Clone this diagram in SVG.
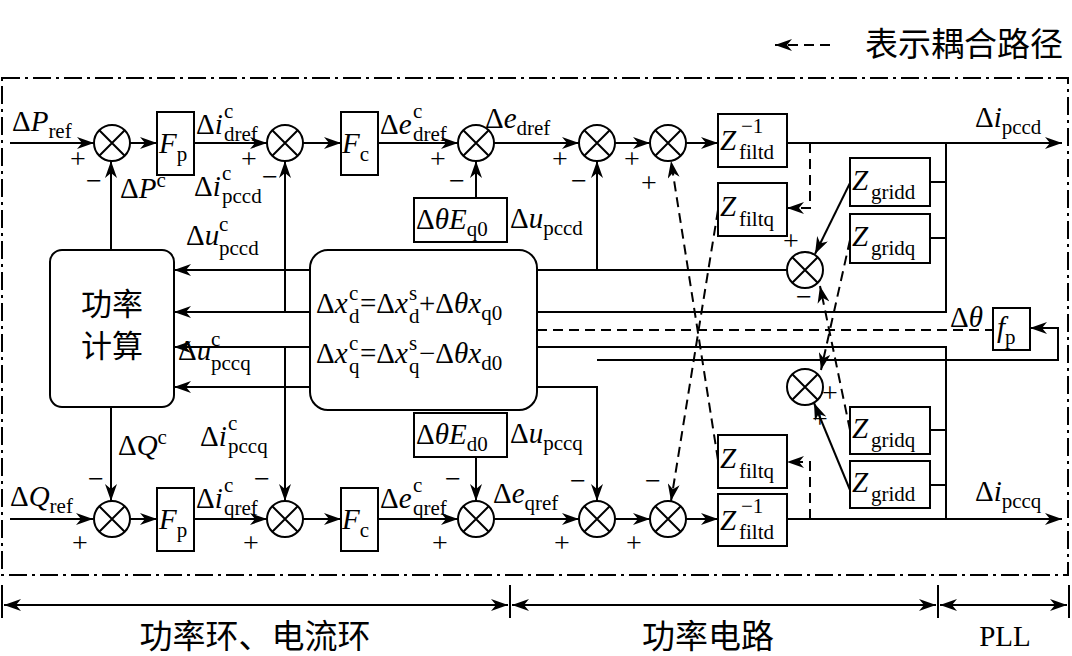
<svg xmlns="http://www.w3.org/2000/svg" width="1072" height="656" viewBox="0 0 1072 656">
<style>
.t{font-family:"Liberation Serif","Noto Sans CJK SC",serif;font-size:29px;fill:#000}
.i{font-style:italic}
.s{font-size:21px}
.pm{font-size:28px}
.cn{font-family:"Noto Sans CJK SC","Liberation Serif",serif;font-size:31px;fill:#000}
.cb{font-size:33px}
.l{stroke:#000;stroke-width:2;fill:none}
.d{stroke:#000;stroke-width:2;fill:none;stroke-dasharray:10,6}
.b{stroke:#000;stroke-width:2;fill:#fff}
</style>
<defs>
<marker id="a" markerUnits="userSpaceOnUse" markerWidth="18" markerHeight="12" refX="17" refY="6" orient="auto"><path d="M0,0 L17,6 L0,12 L5,6 Z" fill="#000"/></marker>
<g id="sum"><circle r="18" class="b"/><path d="M-12.7,-12.7 L12.7,12.7 M-12.7,12.7 L12.7,-12.7" class="l"/></g>
</defs>
<rect x="2" y="78" width="1066" height="497" fill="none" stroke="#000" stroke-width="2" stroke-dasharray="18,5,3,5"/>
<g id="connectors">
<path class="l" marker-end="url(#a)" d="M10,143H94"/>
<path class="l" marker-end="url(#a)" d="M130,143H157"/>
<path class="l" marker-end="url(#a)" d="M194,143H267"/>
<path class="l" marker-end="url(#a)" d="M303,143H341"/>
<path class="l" marker-end="url(#a)" d="M378,143H458"/>
<path class="l" marker-end="url(#a)" d="M494,143H579"/>
<path class="l" marker-end="url(#a)" d="M615,143H650"/>
<path class="l" marker-end="url(#a)" d="M686,143H718"/>
<path class="l" marker-end="url(#a)" d="M787,143H1062"/>
<path class="l" d="M946,143V312H537"/>
<path class="l" d="M930,182H946M930,238H946"/>
<path class="l" marker-end="url(#a)" d="M111,250V161"/>
<path class="l" marker-end="url(#a)" d="M285,312V161"/>
<path class="l" marker-end="url(#a)" d="M476,198V161"/>
<path class="l" d="M537,270H787"/>
<path class="l" marker-end="url(#a)" d="M597,270V161"/>
<path class="l" marker-end="url(#a)" d="M310,270H174"/>
<path class="l" marker-end="url(#a)" d="M310,312H174"/>
<path class="l" marker-end="url(#a)" d="M310,347H174"/>
<path class="l" marker-end="url(#a)" d="M310,387H174"/>
<path class="l" marker-end="url(#a)" d="M850,183L815,254"/>
<path class="l" marker-end="url(#a)" d="M850,490L814,403"/>
<path class="l" marker-end="url(#a)" d="M10,519H93"/>
<path class="l" marker-end="url(#a)" d="M130,519H157"/>
<path class="l" marker-end="url(#a)" d="M194,519H267"/>
<path class="l" marker-end="url(#a)" d="M303,519H341"/>
<path class="l" marker-end="url(#a)" d="M378,519H458"/>
<path class="l" marker-end="url(#a)" d="M494,519H579"/>
<path class="l" marker-end="url(#a)" d="M615,519H650"/>
<path class="l" marker-end="url(#a)" d="M686,519H718"/>
<path class="l" marker-end="url(#a)" d="M787,519H1062"/>
<path class="l" d="M537,347H946V519"/>
<path class="l" d="M930,430H946M930,485H946"/>
<path class="l" marker-end="url(#a)" d="M111,407V501"/>
<path class="l" marker-end="url(#a)" d="M285,347V501"/>
<path class="l" marker-end="url(#a)" d="M476,456V501"/>
<path class="l" marker-end="url(#a)" d="M537,387H597V501"/>
<path class="l" marker-end="url(#a)" d="M597,360H1058V328H1030"/>
<path class="d" d="M537,330H993"/>
<path class="d" marker-end="url(#a)" d="M810,143V208H787"/>
<path class="d" marker-end="url(#a)" d="M810,519V462H787"/>
<path class="d" marker-end="url(#a)" d="M718,210L671,501"/>
<path class="d" marker-end="url(#a)" d="M718,460L671,161"/>
<path class="d" marker-end="url(#a)" d="M850,240L821,370"/>
<path class="d" marker-end="url(#a)" d="M850,430L820,286"/>
</g>
<g id="sums">
<use href="#sum" x="112" y="143"/><use href="#sum" x="285" y="143"/><use href="#sum" x="476" y="143"/><use href="#sum" x="597" y="143"/><use href="#sum" x="668" y="143"/>
<use href="#sum" x="112" y="519"/><use href="#sum" x="285" y="519"/><use href="#sum" x="476" y="519"/><use href="#sum" x="597" y="519"/><use href="#sum" x="668" y="519"/>
<use href="#sum" x="805" y="270"/><use href="#sum" x="805" y="387"/>
</g>
<g id="Fp1"><rect class="b" x="157" y="112" width="37" height="63"/><text class="t" x="159" y="153"><tspan class="i">F</tspan><tspan class="s" dy="8">p</tspan></text></g>
<g id="Fc1"><rect class="b" x="341" y="112" width="37" height="63"/><text class="t" x="342" y="153"><tspan class="i">F</tspan><tspan class="s" dy="8">c</tspan></text></g>
<g id="Fp2"><rect class="b" x="157" y="488" width="37" height="63"/><text class="t" x="159" y="529"><tspan class="i">F</tspan><tspan class="s" dy="8">p</tspan></text></g>
<g id="Fc2"><rect class="b" x="341" y="488" width="37" height="63"/><text class="t" x="342" y="529"><tspan class="i">F</tspan><tspan class="s" dy="8">c</tspan></text></g>
<g id="Eq0"><rect class="b" x="414" y="198" width="93" height="44"/><text class="t" x="416" y="229">Δ<tspan class="i">θE</tspan><tspan class="s" dy="7">q0</tspan></text></g>
<g id="Ed0"><rect class="b" x="414" y="413" width="93" height="44"/><text class="t" x="416" y="444">Δ<tspan class="i">θE</tspan><tspan class="s" dy="7">d0</tspan></text></g>
<g id="Zfiltd1"><rect class="b" x="718" y="114" width="69" height="53"/><text class="t i" x="720" y="150">Z</text><text class="t s" x="741" y="133">−1</text><text class="t s" x="739" y="159">filtd</text></g>
<g id="Zfiltq1"><rect class="b" x="718" y="183" width="69" height="53"/><text class="t i" x="720" y="216">Z</text><text class="t s" x="739" y="226">filtq</text></g>
<g id="Zfiltq2"><rect class="b" x="718" y="435" width="69" height="53"/><text class="t i" x="720" y="468">Z</text><text class="t s" x="739" y="478">filtq</text></g>
<g id="Zfiltd2"><rect class="b" x="718" y="494" width="69" height="52"/><text class="t i" x="720" y="530">Z</text><text class="t s" x="741" y="513">−1</text><text class="t s" x="739" y="539">filtd</text></g>
<g id="Zgridd1"><rect class="b" x="850" y="158" width="80" height="48"/><text class="t i" x="852" y="190">Z</text><text class="t s" x="871" y="199">gridd</text></g>
<g id="Zgridq1"><rect class="b" x="850" y="214" width="80" height="49"/><text class="t i" x="852" y="246">Z</text><text class="t s" x="871" y="255">gridq</text></g>
<g id="Zgridq2"><rect class="b" x="850" y="407" width="80" height="47"/><text class="t i" x="852" y="438">Z</text><text class="t s" x="871" y="447">gridq</text></g>
<g id="Zgridd2"><rect class="b" x="850" y="461" width="80" height="47"/><text class="t i" x="852" y="492">Z</text><text class="t s" x="871" y="501">gridd</text></g>
<g id="fp"><rect class="b" x="993" y="308" width="37" height="42"/><text class="t" x="997" y="337"><tspan class="i">f</tspan><tspan class="s" dy="7">p</tspan></text></g>
<g id="power"><rect class="b" x="50" y="250" width="124" height="157" rx="12"/><text class="cn" x="112" y="315" text-anchor="middle">功率</text><text class="cn" x="112" y="357" text-anchor="middle">计算</text></g>
<g id="xform"><rect class="b" x="310" y="250" width="227" height="160" rx="18"/>
<text class="t" x="316" y="313">Δ<tspan class="i">x</tspan></text><text class="t s" x="349" y="300">c</text><text class="t s" x="349" y="323">d</text><text class="t" x="360" y="313">=Δ<tspan class="i">x</tspan></text><text class="t s" x="409" y="300">s</text><text class="t s" x="409" y="323">d</text><text class="t" x="419" y="313">+Δ<tspan class="i">θx</tspan><tspan class="s" dy="7">q0</tspan></text>
<text class="t" x="316" y="363">Δ<tspan class="i">x</tspan></text><text class="t s" x="349" y="350">c</text><text class="t s" x="349" y="373">q</text><text class="t" x="360" y="363">=Δ<tspan class="i">x</tspan></text><text class="t s" x="409" y="350">s</text><text class="t s" x="409" y="373">q</text><text class="t" x="419" y="363">−Δ<tspan class="i">θx</tspan><tspan class="s" dy="7">d0</tspan></text>
</g>
<g id="labels">
<text class="t" x="12" y="131">Δ<tspan class="i">P</tspan><tspan class="s" dy="7">ref</tspan></text>
<text class="t" x="196" y="134">Δ<tspan class="i">i</tspan></text><text class="t s" x="224" y="118">c</text><text class="t s" x="224" y="141">dref</text>
<text class="t" x="120" y="198">Δ<tspan class="i">P</tspan><tspan class="s" dy="-11">c</tspan></text>
<text class="t" x="194" y="196">Δ<tspan class="i">i</tspan></text><text class="t s" x="222" y="180">c</text><text class="t s" x="222" y="203">pccd</text>
<text class="t" x="380" y="134">Δ<tspan class="i">e</tspan></text><text class="t s" x="413" y="118">c</text><text class="t s" x="413" y="141">dref</text>
<text class="t" x="485" y="128">Δ<tspan class="i">e</tspan><tspan class="s" dy="7">dref</tspan></text>
<text class="t" x="510" y="228">Δ<tspan class="i">u</tspan><tspan class="s" dy="7">pccd</tspan></text>
<text class="t" x="186" y="245">Δ<tspan class="i">u</tspan></text><text class="t s" x="219" y="231">c</text><text class="t s" x="219" y="255">pccd</text>
<text class="t" x="178" y="360">Δ<tspan class="i">u</tspan></text><text class="t s" x="211" y="346">c</text><text class="t s" x="211" y="370">pccq</text>
<text class="t" x="118" y="455">Δ<tspan class="i">Q</tspan><tspan class="s" dy="-11">c</tspan></text>
<text class="t" x="200" y="446">Δ<tspan class="i">i</tspan></text><text class="t s" x="228" y="430">c</text><text class="t s" x="228" y="453">pccq</text>
<text class="t" x="10" y="506">Δ<tspan class="i">Q</tspan><tspan class="s" dy="7">ref</tspan></text>
<text class="t" x="196" y="508">Δ<tspan class="i">i</tspan></text><text class="t s" x="224" y="492">c</text><text class="t s" x="224" y="515">qref</text>
<text class="t" x="380" y="508">Δ<tspan class="i">e</tspan></text><text class="t s" x="413" y="492">c</text><text class="t s" x="413" y="515">qref</text>
<text class="t" x="493" y="503">Δ<tspan class="i">e</tspan><tspan class="s" dy="7">qref</tspan></text>
<text class="t" x="510" y="443">Δ<tspan class="i">u</tspan><tspan class="s" dy="7">pccq</tspan></text>
<text class="t" x="975" y="127">Δ<tspan class="i">i</tspan><tspan class="s" dy="7">pccd</tspan></text>
<text class="t" x="975" y="501">Δ<tspan class="i">i</tspan><tspan class="s" dy="7">pccq</tspan></text>
<text class="t" x="950" y="327">Δ<tspan class="i">θ</tspan></text>
<g class="t pm">
<text x="70" y="168">+</text><text x="86" y="190">−</text>
<text x="241" y="168">+</text><text x="262" y="186">−</text>
<text x="430" y="168">+</text><text x="449" y="190">−</text>
<text x="552" y="168">+</text><text x="571" y="190">−</text>
<text x="624" y="168">+</text><text x="641" y="192">+</text>
<text x="783" y="250">+</text><text x="796" y="306">−</text>
<text x="822" y="402">+</text><text x="812" y="428">+</text>
<text x="88" y="488">−</text><text x="72" y="552">+</text>
<text x="254" y="488">−</text><text x="243" y="552">+</text>
<text x="445" y="488">−</text><text x="432" y="552">+</text>
<text x="570" y="490">−</text><text x="554" y="552">+</text>
<text x="645" y="490">−</text><text x="626" y="552">+</text>
</g>
</g>
<g id="legend"><path class="d" marker-end="url(#a)" d="M830,45H775"/><text class="cn cb" x="865" y="56">表示耦合路径</text></g>
<g id="ruler">
<path class="l" d="M2,585V618M510,585V618M938,585V618M1069,585V618"/>
<path class="l" marker-end="url(#a)" d="M256,605H4"/><path class="l" marker-end="url(#a)" d="M256,605H508"/>
<path class="l" marker-end="url(#a)" d="M724,605H512"/><path class="l" marker-end="url(#a)" d="M724,605H936"/>
<path class="l" marker-end="url(#a)" d="M1004,605H940"/><path class="l" marker-end="url(#a)" d="M1004,605H1067"/>
<text class="cn cb" x="255" y="648" text-anchor="middle">功率环、电流环</text>
<text class="cn cb" x="708" y="648" text-anchor="middle">功率电路</text>
<text class="t" x="1005" y="646" text-anchor="middle">PLL</text>
</g>
</svg>
